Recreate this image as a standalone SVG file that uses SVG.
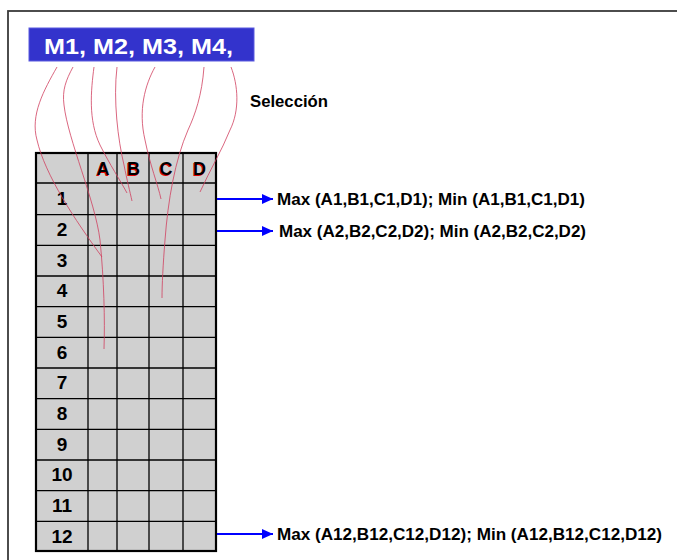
<svg xmlns="http://www.w3.org/2000/svg" width="677" height="560" viewBox="0 0 677 560">
<style>
.frame{fill:none;stroke:#3a3a3a;stroke-width:1.8}
.cell{fill:#d0d0d0;stroke:#000;stroke-width:1.3}
.outer{fill:none;stroke:#000;stroke-width:2.2}
.grid{stroke:#000;stroke-width:1.3}
.num{font-family:"Liberation Sans",Arial,sans-serif;font-weight:bold;font-size:19px;text-anchor:middle;fill:#000}
.col{font-family:"Liberation Sans",Arial,sans-serif;font-weight:bold;font-size:18px;text-anchor:middle}
.lbl{font-family:"Liberation Sans",Arial,sans-serif;font-weight:bold;font-size:16px;fill:#000}
.sel{stroke:#d04060;stroke-width:0.8;fill:none}
.arr{stroke:#0000ff;stroke-width:2;fill:none}
</style>
<defs>
<marker id="ah" viewBox="0 0 11 10" refX="11" refY="5" markerWidth="11" markerHeight="10" markerUnits="userSpaceOnUse" orient="auto">
<path d="M0,0 L11,5 L0,10 z" fill="#0000ff"/>
</marker>
</defs>
<rect class="frame" x="8" y="11" width="700" height="600"/>
<g id="selector">
<rect x="29" y="28" width="225" height="33" fill="#3333cc" stroke="#5a5ae0" stroke-width="1"/>
<text x="44" y="54" font-family="'Liberation Sans',Arial,sans-serif" font-weight="bold" font-size="22.5" fill="#fff" textLength="189" lengthAdjust="spacingAndGlyphs">M1, M2, M3, M4,</text>
</g>
<g id="seleccion-label">
<text class="lbl" x="250" y="107" textLength="78" lengthAdjust="spacingAndGlyphs">Selección</text>
</g>
<g id="table">
<rect class="cell" x="36" y="153" width="180" height="398"/>
<g class="grid">
<line x1="88" y1="153" x2="88" y2="551"/>
<line x1="117" y1="153" x2="117" y2="551"/>
<line x1="149" y1="153" x2="149" y2="551"/>
<line x1="183" y1="153" x2="183" y2="551"/>
<line x1="36" y1="183" x2="216" y2="183"/>
<line x1="36" y1="214.7" x2="216" y2="214.7"/>
<line x1="36" y1="245.3" x2="216" y2="245.3"/>
<line x1="36" y1="276" x2="216" y2="276"/>
<line x1="36" y1="306.7" x2="216" y2="306.7"/>
<line x1="36" y1="337.3" x2="216" y2="337.3"/>
<line x1="36" y1="368" x2="216" y2="368"/>
<line x1="36" y1="398.7" x2="216" y2="398.7"/>
<line x1="36" y1="429.3" x2="216" y2="429.3"/>
<line x1="36" y1="460" x2="216" y2="460"/>
<line x1="36" y1="490.7" x2="216" y2="490.7"/>
<line x1="36" y1="521.3" x2="216" y2="521.3"/>
</g>
<rect class="outer" x="36" y="153" width="180" height="398"/>
<g fill="#e00000">
<text class="col" x="102.3" y="175.5">A</text>
<text class="col" x="132.8" y="175.5">B</text>
<text class="col" x="165.3" y="175.5">C</text>
<text class="col" x="198.8" y="175.5">D</text>
</g>
<g fill="#000">
<text class="col" x="103" y="175">A</text>
<text class="col" x="133.5" y="175">B</text>
<text class="col" x="166" y="175">C</text>
<text class="col" x="199.5" y="175">D</text>
</g>
<text class="num" x="62" y="205">1</text>
<text class="num" x="62" y="236">2</text>
<text class="num" x="62" y="266.5">3</text>
<text class="num" x="62" y="297">4</text>
<text class="num" x="62" y="328">5</text>
<text class="num" x="62" y="358.5">6</text>
<text class="num" x="62" y="389">7</text>
<text class="num" x="62" y="420">8</text>
<text class="num" x="62" y="450.5">9</text>
<text class="num" x="62" y="481">10</text>
<text class="num" x="62" y="512">11</text>
<text class="num" x="62" y="542.5">12</text>
</g>
<g id="result-1"><text class="lbl" x="277" y="205" textLength="308" lengthAdjust="spacingAndGlyphs">Max (A1,B1,C1,D1); Min (A1,B1,C1,D1)</text></g>
<g id="result-2"><text class="lbl" x="279" y="237" textLength="307" lengthAdjust="spacingAndGlyphs">Max (A2,B2,C2,D2); Min (A2,B2,C2,D2)</text></g>
<g id="result-12"><text class="lbl" x="277" y="540" textLength="385" lengthAdjust="spacingAndGlyphs">Max (A12,B12,C12,D12); Min (A12,B12,C12,D12)</text></g>
<g id="connectors">
<path class="sel" d="M57,67 C44,90 30,115 37,140 C45,175 75,220 102,257"/>
<path class="sel" d="M73,67 C66,80 62,90 64,105 C68,140 95,200 100,240 C104,280 105,320 104,349"/>
<path class="sel" d="M94,67 C91,90 88,120 100,145 C110,165 120,180 127,193"/>
<path class="sel" d="M117,67 C113,100 118,140 124,165 C127,180 130,192 132,201"/>
<path class="sel" d="M155,67 C145,85 138,110 145,140 C150,165 158,185 161,199"/>
<path class="sel" d="M204,67 C202,95 195,115 188,130 C175,160 168,200 165,240 C163,265 162,285 162,298"/>
<path class="sel" d="M231,67 C238,85 240,110 230,130 C222,150 210,170 200,192"/>
<line class="arr" x1="217" y1="199" x2="273" y2="199" marker-end="url(#ah)"/>
<line class="arr" x1="217" y1="231" x2="273" y2="231" marker-end="url(#ah)"/>
<line class="arr" x1="217" y1="534" x2="273" y2="534" marker-end="url(#ah)"/>
</g>
</svg>
